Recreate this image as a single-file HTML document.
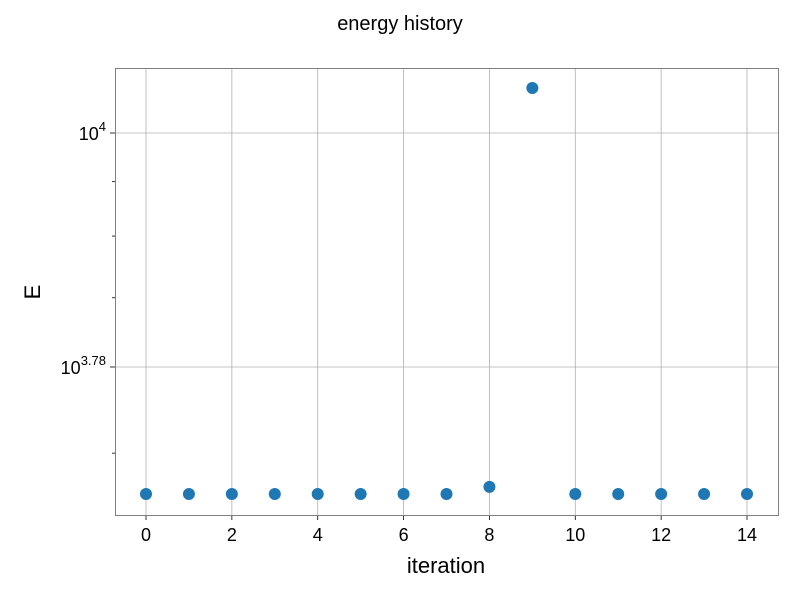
<!DOCTYPE html>
<html><head><meta charset="utf-8"><style>
body{margin:0;background:#fff;}
svg text{font-family:"Liberation Sans",sans-serif;fill:#000;}
</style></head><body>
<svg width="800" height="600" id="c">
<text x="400" y="30" font-size="20" text-anchor="middle">energy history</text>
<text x="446" y="573" font-size="22" text-anchor="middle">iteration</text>
<text transform="translate(40,292) rotate(-90)" font-size="22" text-anchor="middle">E</text>
<g id="grid"></g><g id="ticks"></g><g id="pts"></g>
<rect x="115.5" y="68.5" width="663" height="447" fill="none" stroke="#808080" stroke-width="1"/>
</svg>
<script>
const iterations=[0,1,2,3,4,5,6,7,8,9,10,11,12,13,14];
const energies=[4577,4577,4577,4577,4577,4577,4577,4577,4648,11024,4577,4577,4577,4577,4577];
const xTicks=[0,2,4,6,8,10,12,14];
const yMajor=[4,3.78];
const yMinor=[9000,8000,7000,5000];
const ns="http://www.w3.org/2000/svg";
const X=v=>146+v*(747-146)/14;
const Y=v=>133+(4-Math.log10(v))*1063.6;
const YL=l=>133+(4-l)*1063.6;
function mk(t,a,p){const e=document.createElementNS(ns,t);for(const k in a)e.setAttribute(k,a[k]);p.appendChild(e);return e;}
const g=document.getElementById('grid'),tk=document.getElementById('ticks'),pts=document.getElementById('pts');
xTicks.forEach(v=>{const x=X(v);
const l=mk('line',{x1:x,x2:x,y1:68,y2:515,stroke:'#b0b0b0','stroke-width':0.8},g);


const t=mk('line',{x1:x,x2:x,y1:515,y2:520,stroke:'#000','stroke-width':0.8},tk);


const tx=mk('text',{x:x,y:541,'font-size':18,'text-anchor':'middle'},tk);tx.textContent=v;

});
yMajor.forEach(v=>{const y=YL(v);
const l=mk('line',{x1:115,x2:778,y1:y,y2:y,stroke:'#b0b0b0','stroke-width':0.8},g);


const t=mk('line',{x1:110,x2:115,y1:y,y2:y,stroke:'#000','stroke-width':0.8},tk);


const tx=mk('text',{x:106,y:y+7,'font-size':18,'text-anchor':'end'},tk);


const a=mk('tspan',{},tx);a.textContent='10';
const b=mk('tspan',{'font-size':13,dy:-9},tx);b.textContent=String(v);});
yMinor.forEach(v=>{const y=Y(v);
const t=mk('line',{x1:112,x2:115,y1:y,y2:y,stroke:'#000','stroke-width':0.8},tk);

});
iterations.forEach((it,i)=>{
const c=mk('circle',{cx:X(it),cy:Y(energies[i]),r:6,fill:'#1f77b4'},pts);

});
</script>
</body></html>
